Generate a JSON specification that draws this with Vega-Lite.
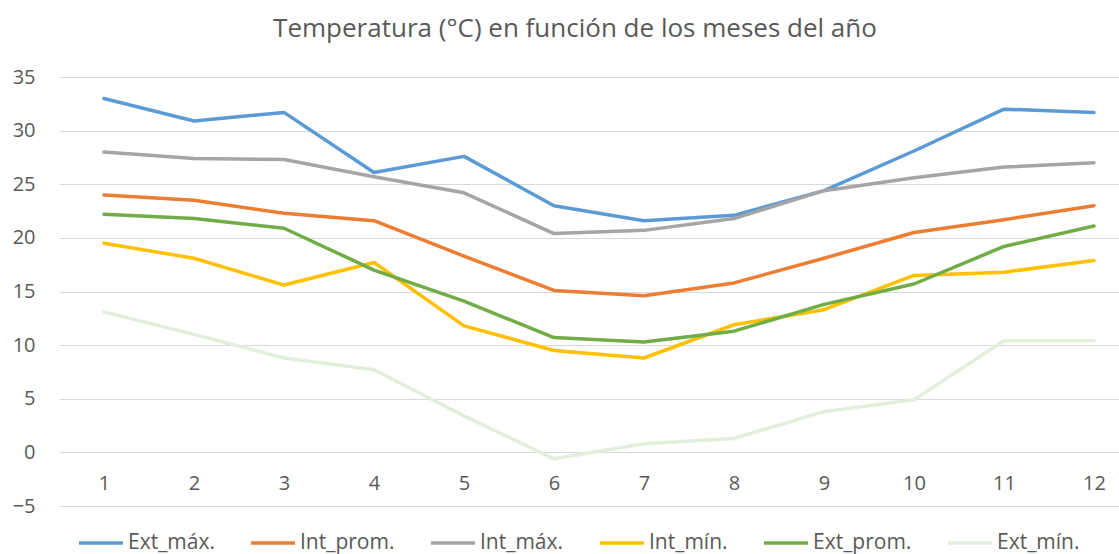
{
  "$schema": "https://vega.github.io/schema/vega-lite/v6.json",
  "autosize": "none",
  "width": 1060,
  "height": 429,
  "padding": {"left": 59, "top": 77, "right": 0, "bottom": 48},
  "background": "white",
  "title": {
    "text": "Temperatura (°C) en función de los meses del año",
    "font": "Open Sans",
    "fontSize": 26,
    "fontWeight": "normal",
    "color": "#595959",
    "anchor": "middle",
    "dx": -14,
    "offset": 25
  },
  "config": {
    "view": {"stroke": null},
    "font": "Open Sans"
  },
  "data": {
    "values": [
      {"mes": 1, "serie": "Ext_máx.", "temp": 33.0},
      {"mes": 2, "serie": "Ext_máx.", "temp": 30.9},
      {"mes": 3, "serie": "Ext_máx.", "temp": 31.7},
      {"mes": 4, "serie": "Ext_máx.", "temp": 26.1},
      {"mes": 5, "serie": "Ext_máx.", "temp": 27.6},
      {"mes": 6, "serie": "Ext_máx.", "temp": 23.0},
      {"mes": 7, "serie": "Ext_máx.", "temp": 21.6},
      {"mes": 8, "serie": "Ext_máx.", "temp": 22.1},
      {"mes": 9, "serie": "Ext_máx.", "temp": 24.4},
      {"mes": 10, "serie": "Ext_máx.", "temp": 28.1},
      {"mes": 11, "serie": "Ext_máx.", "temp": 32.0},
      {"mes": 12, "serie": "Ext_máx.", "temp": 31.7},
      {"mes": 1, "serie": "Int_prom.", "temp": 24.0},
      {"mes": 2, "serie": "Int_prom.", "temp": 23.5},
      {"mes": 3, "serie": "Int_prom.", "temp": 22.3},
      {"mes": 4, "serie": "Int_prom.", "temp": 21.6},
      {"mes": 5, "serie": "Int_prom.", "temp": 18.3},
      {"mes": 6, "serie": "Int_prom.", "temp": 15.1},
      {"mes": 7, "serie": "Int_prom.", "temp": 14.6},
      {"mes": 8, "serie": "Int_prom.", "temp": 15.8},
      {"mes": 9, "serie": "Int_prom.", "temp": 18.1},
      {"mes": 10, "serie": "Int_prom.", "temp": 20.5},
      {"mes": 11, "serie": "Int_prom.", "temp": 21.7},
      {"mes": 12, "serie": "Int_prom.", "temp": 23.0},
      {"mes": 1, "serie": "Int_máx.", "temp": 28.0},
      {"mes": 2, "serie": "Int_máx.", "temp": 27.4},
      {"mes": 3, "serie": "Int_máx.", "temp": 27.3},
      {"mes": 4, "serie": "Int_máx.", "temp": 25.7},
      {"mes": 5, "serie": "Int_máx.", "temp": 24.2},
      {"mes": 6, "serie": "Int_máx.", "temp": 20.4},
      {"mes": 7, "serie": "Int_máx.", "temp": 20.7},
      {"mes": 8, "serie": "Int_máx.", "temp": 21.8},
      {"mes": 9, "serie": "Int_máx.", "temp": 24.4},
      {"mes": 10, "serie": "Int_máx.", "temp": 25.6},
      {"mes": 11, "serie": "Int_máx.", "temp": 26.6},
      {"mes": 12, "serie": "Int_máx.", "temp": 27.0},
      {"mes": 1, "serie": "Int_mín.", "temp": 19.5},
      {"mes": 2, "serie": "Int_mín.", "temp": 18.1},
      {"mes": 3, "serie": "Int_mín.", "temp": 15.6},
      {"mes": 4, "serie": "Int_mín.", "temp": 17.7},
      {"mes": 5, "serie": "Int_mín.", "temp": 11.8},
      {"mes": 6, "serie": "Int_mín.", "temp": 9.5},
      {"mes": 7, "serie": "Int_mín.", "temp": 8.8},
      {"mes": 8, "serie": "Int_mín.", "temp": 11.9},
      {"mes": 9, "serie": "Int_mín.", "temp": 13.3},
      {"mes": 10, "serie": "Int_mín.", "temp": 16.5},
      {"mes": 11, "serie": "Int_mín.", "temp": 16.8},
      {"mes": 12, "serie": "Int_mín.", "temp": 17.9},
      {"mes": 1, "serie": "Ext_prom.", "temp": 22.2},
      {"mes": 2, "serie": "Ext_prom.", "temp": 21.8},
      {"mes": 3, "serie": "Ext_prom.", "temp": 20.9},
      {"mes": 4, "serie": "Ext_prom.", "temp": 17.0},
      {"mes": 5, "serie": "Ext_prom.", "temp": 14.1},
      {"mes": 6, "serie": "Ext_prom.", "temp": 10.7},
      {"mes": 7, "serie": "Ext_prom.", "temp": 10.3},
      {"mes": 8, "serie": "Ext_prom.", "temp": 11.3},
      {"mes": 9, "serie": "Ext_prom.", "temp": 13.8},
      {"mes": 10, "serie": "Ext_prom.", "temp": 15.7},
      {"mes": 11, "serie": "Ext_prom.", "temp": 19.2},
      {"mes": 12, "serie": "Ext_prom.", "temp": 21.1},
      {"mes": 1, "serie": "Ext_mín.", "temp": 13.1},
      {"mes": 2, "serie": "Ext_mín.", "temp": 11.0},
      {"mes": 3, "serie": "Ext_mín.", "temp": 8.8},
      {"mes": 4, "serie": "Ext_mín.", "temp": 7.7},
      {"mes": 5, "serie": "Ext_mín.", "temp": 3.4},
      {"mes": 6, "serie": "Ext_mín.", "temp": -0.6},
      {"mes": 7, "serie": "Ext_mín.", "temp": 0.8},
      {"mes": 8, "serie": "Ext_mín.", "temp": 1.3},
      {"mes": 9, "serie": "Ext_mín.", "temp": 3.8},
      {"mes": 10, "serie": "Ext_mín.", "temp": 4.9},
      {"mes": 11, "serie": "Ext_mín.", "temp": 10.4},
      {"mes": 12, "serie": "Ext_mín.", "temp": 10.4}
    ]
  },
  "mark": {"type": "line", "strokeWidth": 3.5, "strokeJoin": "round", "strokeCap": "round"},
  "encoding": {
    "x": {
      "field": "mes",
      "type": "quantitative",
      "scale": {"domain": [0.5, 12.278], "nice": false, "zero": false},
      "axis": {
        "title": null,
        "values": [1, 2, 3, 4, 5, 6, 7, 8, 9, 10, 11, 12],
        "format": "d",
        "grid": false,
        "domain": false,
        "ticks": false,
        "offset": -54,
        "labelPadding": 21,
        "labelFont": "Open Sans",
        "labelFontSize": 20,
        "labelColor": "#595959"
      }
    },
    "y": {
      "field": "temp",
      "type": "quantitative",
      "scale": {"domain": [-5, 35], "nice": false, "zero": false},
      "axis": {
        "title": null,
        "values": [-5, 0, 5, 10, 15, 20, 25, 30, 35],
        "domain": false,
        "ticks": false,
        "grid": true,
        "gridColor": "#D9D9D9",
        "gridWidth": 1,
        "labelPadding": 24,
        "labelFont": "Open Sans",
        "labelFontSize": 20,
        "labelColor": "#595959"
      }
    },
    "color": {
      "field": "serie",
      "type": "nominal",
      "sort": ["Ext_máx.", "Int_prom.", "Int_máx.", "Int_mín.", "Ext_prom.", "Ext_mín."],
      "scale": {
        "domain": ["Ext_máx.", "Int_prom.", "Int_máx.", "Int_mín.", "Ext_prom.", "Ext_mín."],
        "range": ["#5B9BD5", "#ED7D31", "#A5A5A5", "#FFC000", "#70AD47", "#E2EFDA"]
      },
      "legend": {
        "title": null,
        "orient": "none",
        "direction": "horizontal",
        "columns": 6,
        "legendX": 18,
        "legendY": 442,
        "symbolType": "stroke",
        "symbolSize": 1936,
        "symbolStrokeWidth": 3.5,
        "labelOffset": 3,
        "columnPadding": 29,
        "labelFont": "Open Sans",
        "labelFontSize": 21,
        "labelColor": "#595959",
        "labelLimit": 300
      }
    }
  }
}
